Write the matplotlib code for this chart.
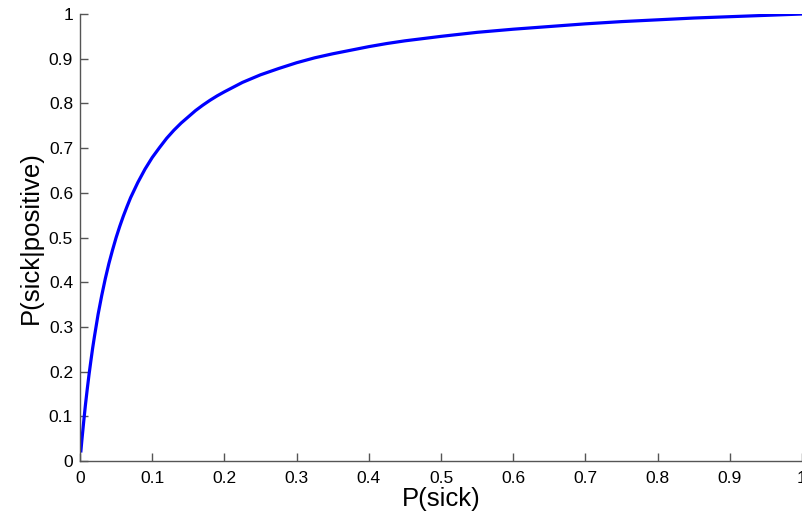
import matplotlib
matplotlib.use("Agg")

import matplotlib.pyplot as plt

# prior probability of being sick vs posterior after a positive test
pSick = [0.001, 0.0025, 0.005, 0.0075, 0.01, 0.0125, 0.015, 0.0175, 0.02, 0.025,
         0.03, 0.035, 0.04, 0.045, 0.05, 0.055, 0.06, 0.065, 0.07, 0.075,
         0.08, 0.085, 0.09, 0.095, 0.1, 0.11, 0.12, 0.13, 0.14, 0.15,
         0.16, 0.17, 0.18, 0.19, 0.2, 0.225, 0.25, 0.275, 0.3, 0.325,
         0.35, 0.375, 0.4, 0.425, 0.45, 0.475, 0.5, 0.55, 0.6, 0.65,
         0.7, 0.75, 0.8, 0.85, 0.9, 0.95, 1.0]
pSickPositive = [0.019, 0.046, 0.087, 0.126, 0.161, 0.194, 0.224, 0.253, 0.279, 0.328,
                 0.370, 0.408, 0.442, 0.472, 0.500, 0.525, 0.548, 0.569, 0.589, 0.606,
                 0.623, 0.638, 0.653, 0.666, 0.679, 0.701, 0.722, 0.740, 0.756, 0.770,
                 0.784, 0.796, 0.807, 0.817, 0.826, 0.847, 0.864, 0.878, 0.891, 0.902,
                 0.911, 0.919, 0.927, 0.934, 0.940, 0.945, 0.950, 0.959, 0.966, 0.972,
                 0.978, 0.983, 0.987, 0.991, 0.994, 0.997, 1.0]

xTicks = [0, 0.1, 0.2, 0.3, 0.4, 0.5, 0.6, 0.7, 0.8, 0.9, 1]
yTicks = [0, 0.1, 0.2, 0.3, 0.4, 0.5, 0.6, 0.7, 0.8, 0.9, 1]
tickLabels = ["0", "0.1", "0.2", "0.3", "0.4", "0.5", "0.6", "0.7", "0.8", "0.9", "1"]

plt.rcParams["font.family"] = ["Liberation Sans", "DejaVu Sans"]

fig = plt.figure(figsize=(8.02, 5.17), dpi=100)
ax = fig.add_axes([0.0998, 0.1083, 0.9002, 0.8646])

ax.plot(pSick, pSickPositive, color="#0000ff", linewidth=2.3,
        solid_capstyle="butt", solid_joinstyle="round")

ax.set_xlim(0, 1)
ax.set_ylim(0, 1)
ax.set_xticks(xTicks)
ax.set_yticks(yTicks)
ax.set_xticklabels(tickLabels)
ax.set_yticklabels(tickLabels)
ax.tick_params(direction="in", length=6, width=1, colors="#555555",
               labelcolor="black", labelsize=12.5)
ax.tick_params(axis="x", pad=7)
ax.tick_params(axis="y", pad=5)

for side in ["top", "right"]:
    ax.spines[side].set_visible(False)
for side in ["left", "bottom"]:
    ax.spines[side].set_color("#555555")
    ax.spines[side].set_linewidth(1)

ax.set_xlabel("P(sick)", fontsize=18.5, labelpad=1)
ax.set_ylabel("P(sick|positive)", fontsize=18.5, labelpad=4)

fig.savefig("out.png", dpi=100)
plt.close(fig)
